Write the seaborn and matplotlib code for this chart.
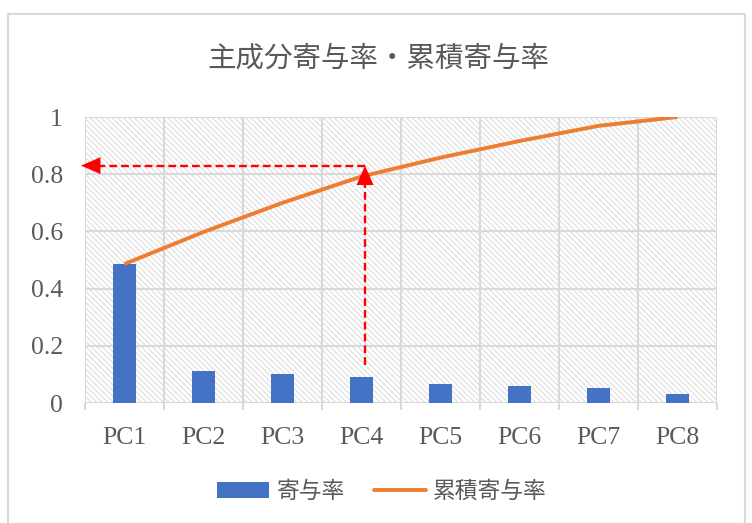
import numpy as np
import pandas as pd
import matplotlib
matplotlib.use("Agg")
import matplotlib.pyplot as plt
from matplotlib.patches import Rectangle
from matplotlib.lines import Line2D
from matplotlib.patches import Patch
import seaborn as sns

# Principal components and their contribution ratios
components = ["PC1", "PC2", "PC3", "PC4", "PC5", "PC6", "PC7", "PC8"]
contribution = [0.486, 0.112, 0.102, 0.092, 0.066, 0.058, 0.053, 0.031]
cumulative = list(np.cumsum(contribution))
y_ticks = [0, 0.2, 0.4, 0.6, 0.8, 1.0]
y_tick_labels = ["0", "0.2", "0.4", "0.6", "0.8", "1"]

# Guide arrows marking the cumulative ratio reached at PC4
guide_level = 0.83
guide_x = 3.045
guide_start = 0.133
guide_left = -0.55

title = "主成分寄与率・累積寄与率"
label_bar = "寄与率"
label_line = "累積寄与率"

BLUE = "#4472C4"
ORANGE = "#ED7D31"
RED = "#FF0000"
GRID = "#D9D9D9"
HATCH = "#DDDDDD"
TEXT = "#595959"

sns.set_theme(style="white")
plt.rcParams["font.family"] = ["Noto Sans CJK JP", "DejaVu Sans"]
plt.rcParams["hatch.color"] = HATCH
plt.rcParams["hatch.linewidth"] = 0.8

fig = plt.figure(figsize=(7.52, 5.23), dpi=100)
ax = fig.add_axes([85 / 752, 1 - 403 / 523, (717 - 85) / 752, (403 - 117) / 523])

df = pd.DataFrame({"component": components, "contribution": contribution,
                   "cumulative": cumulative})

sns.barplot(data=df, x="component", y="contribution", color=BLUE, width=0.29,
            saturation=1, ax=ax, zorder=3)
for bar in ax.containers[0]:
    bar.set_edgecolor("none")

sns.lineplot(x=np.arange(len(components)), y=df["cumulative"], color=ORANGE,
             linewidth=2.8, ax=ax, zorder=4, solid_capstyle="butt")

# Hatched plot background
ax.patch.set_facecolor("white")
ax.add_patch(Rectangle((0, 0), 1, 1, transform=ax.transAxes, facecolor="white",
                       edgecolor=HATCH, hatch="\\" * 6, lw=0, zorder=0))

ax.set_xlim(-0.5, len(components) - 0.5)
ax.set_ylim(0, 1)
ax.set_xlabel("")
ax.set_ylabel("")

# Grid: horizontal at value ticks, vertical at category boundaries
for yv in y_ticks:
    ax.axhline(yv, color=GRID, lw=1.5, zorder=1)
for xv in np.arange(-0.5, len(components), 1.0):
    ax.axvline(xv, color=GRID, lw=1.5, zorder=1)
for s in ax.spines.values():
    s.set_visible(False)

ax.set_yticks(y_ticks)
ax.set_yticklabels(y_tick_labels)
ax.set_xticks(np.arange(len(components)))
ax.set_xticklabels(components)
ax.set_xticks(np.arange(-0.5, len(components), 1.0), minor=True)
ax.tick_params(axis="x", which="major", length=0, pad=17)
ax.tick_params(axis="x", which="minor", length=5, width=1.5, color=GRID, bottom=True)
ax.tick_params(axis="y", length=0, pad=16)
for lbl in ax.get_xticklabels() + ax.get_yticklabels():
    lbl.set_fontfamily(["Liberation Serif", "DejaVu Serif"])
    lbl.set_fontsize(18.5)
    lbl.set_color(TEXT)

# Red dashed guide arrows: dashed shafts plus solid heads
dash = (0, (3.3, 1.7))
ax.plot([guide_x, guide_left + 0.15], [guide_level, guide_level], color=RED, lw=1.7,
        linestyle=dash, zorder=6, clip_on=False)
ax.plot([guide_x, guide_x], [guide_start, guide_level - 0.04], color=RED, lw=1.7,
        linestyle=dash, zorder=6, clip_on=False)
head = dict(arrowstyle="-|>,head_length=1.15,head_width=0.5", color=RED, lw=0.1,
            shrinkA=0, shrinkB=0)
ax.annotate("", xy=(guide_left, guide_level), xytext=(guide_left + 0.25, guide_level),
            arrowprops=head, annotation_clip=False, zorder=7)
ax.annotate("", xy=(guide_x, guide_level), xytext=(guide_x, guide_level - 0.08),
            arrowprops=head, annotation_clip=False, zorder=7)

fig.text(378 / 752, 1 - 59 / 523, title, ha="center", va="center",
         fontsize=20.5, color=TEXT)

handles = [Patch(facecolor=BLUE, edgecolor="none"),
           Line2D([0], [0], color=ORANGE, lw=2.8, solid_capstyle="round")]
leg = fig.legend(handles, [label_bar, label_line], loc="center",
                 bbox_to_anchor=(382 / 752, 1 - 491 / 523), ncol=2, frameon=False,
                 fontsize=16.4, handlelength=2.3, handletextpad=0.3,
                 columnspacing=1.3)
for t in leg.get_texts():
    t.set_color(TEXT)

# Chart frame
fig.add_artist(Line2D([8 / 752, 8 / 752, 745 / 752, 745 / 752],
                      [-0.05, 1 - 14 / 523, 1 - 14 / 523, -0.05],
                      transform=fig.transFigure, color=GRID, lw=1.5))

fig.savefig("out.png", dpi=100)
